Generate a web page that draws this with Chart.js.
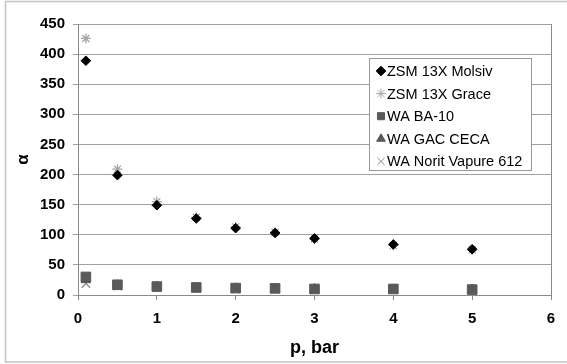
<!DOCTYPE html>
<html>
<head>
<meta charset="utf-8">
<script src="https://cdn.jsdelivr.net/npm/chart.js@4.4.1/dist/chart.umd.min.js"></script>
<style>
  html, body { margin: 0; padding: 0; background: #fff; }
  #wrap { width: 567px; height: 364px; position: relative; }
</style>
</head>
<body>
<div id="wrap"><canvas id="alpha-chart" width="567" height="364"></canvas></div>
<script>
// pressure points, bar
const pressure = [0.1, 0.5, 1, 1.5, 2, 2.5, 3, 4, 5];

// separation factor alpha for each adsorbent
const zsmMolsiv = [389, 199, 149, 127, 111, 103, 94, 84, 76];
const zsmGrace = [426, 209, 155, 129, 113, 104, 93, 82, 75];
const waBA10 = [30, 17, 14, 12.5, 11.5, 11, 10, 10, 9];
const waGacCeca = [25, 16, 14, 12, 11, 10, 10, 9, 9];
const waNorit = [19, 15, 13, 11, 10, 10, 9, 9, 8];

const yTicks = [0, 50, 100, 150, 200, 250, 300, 350, 400, 450];
const xTicks = [0, 1, 2, 3, 4, 5, 6];

const FONT = '"Liberation Sans", Arial, sans-serif';

function toPoints(values) {
    return pressure.map((p, i) => ({ x: p, y: values[i] }));
}

const series = [
    { label: 'ZSM 13X Molsiv', values: zsmMolsiv, style: 'rectRot', radius: 4.8, color: '#000000' },
    { label: 'ZSM 13X Grace', values: zsmGrace, style: 'star', radius: 5, color: '#a6a6a6' },
    { label: 'WA BA-10', values: waBA10, style: 'rect', radius: 6.8, color: '#595959' },
    { label: 'WA GAC CECA', values: waGacCeca, style: 'triangle', radius: 5.5, color: '#595959' },
    { label: 'WA Norit Vapure 612', values: waNorit, style: 'crossRot', radius: 6, color: '#8c8c8c' }
];

// frame round the whole figure, right edge of the plot and the boxed legend
const decorations = {
    id: 'decorations',
    beforeDraw(chart) {
        const ctx = chart.ctx;
        ctx.save();
        ctx.fillStyle = '#fff';
        ctx.fillRect(0, 0, chart.width, chart.height);
        ctx.strokeStyle = '#c4c4c4';
        ctx.lineWidth = 1.5;
        ctx.strokeRect(5.5, 1.5, 580, 360.5);
        ctx.restore();
    },
    afterDraw(chart) {
        const ctx = chart.ctx;
        const area = chart.chartArea;
        ctx.save();
        ctx.strokeStyle = '#8a8a8a';
        ctx.lineWidth = 1;
        ctx.beginPath();
        ctx.moveTo(Math.round(area.right) + 0.5, area.top);
        ctx.lineTo(Math.round(area.right) + 0.5, area.bottom + 5);
        ctx.stroke();

        // legend box
        const bx = 369.5, by = 58.5, bw = 162, bh = 112;
        ctx.fillStyle = '#fff';
        ctx.fillRect(bx, by, bw, bh);
        ctx.strokeStyle = '#9a9a9a';
        ctx.strokeRect(bx, by, bw, bh);
        ctx.font = '14.5px ' + FONT;
        ctx.textBaseline = 'middle';
        chart.data.datasets.forEach((ds, i) => {
            const cy = 71 + i * 22.6;
            ctx.fillStyle = ds.pointBackgroundColor;
            ctx.strokeStyle = ds.pointBorderColor;
            Chart.helpers.drawPoint(ctx, {
                pointStyle: ds.pointStyle,
                radius: Math.min(ds.pointRadius, 5),
                borderWidth: ds.pointBorderWidth,
                rotation: 0
            }, 381, cy);
            ctx.fillStyle = '#000';
            ctx.fillText(ds.label, 387, cy + 1);
        });
        ctx.restore();
    }
};

new Chart(document.getElementById('alpha-chart').getContext('2d'), {
    type: 'scatter',
    data: {
        datasets: series.map(s => ({
            label: s.label,
            data: toPoints(s.values),
            pointStyle: s.style,
            pointRadius: s.radius,
            pointHoverRadius: s.radius,
            pointBackgroundColor: s.color,
            pointBorderColor: s.color,
            pointBorderWidth: (s.style === 'star' || s.style === 'crossRot') ? 1.3 : 1,
            showLine: false
        }))
    },
    options: {
        responsive: false,
        animation: false,
        layout: { padding: { left: 0, top: 24, right: 16, bottom: 0 } },
        plugins: {
            legend: { display: false },
            tooltip: { enabled: false }
        },
        scales: {
            x: {
                type: 'linear',
                min: 0,
                max: 6,
                afterBuildTicks: scale => { scale.ticks = xTicks.map(v => ({ value: v })); },
                afterFit: scale => { scale.height = 69; },
                grid: { drawOnChartArea: false, drawTicks: true, tickLength: 5, color: '#8a8a8a' },
                border: { color: '#8a8a8a', width: 1 },
                ticks: {
                    color: '#000',
                    padding: 10,
                    maxRotation: 0,
                    font: { family: FONT, size: 15, weight: 'bold' }
                },
                title: {
                    display: true,
                    text: 'p, bar',
                    color: '#000',
                    padding: { top: 0, bottom: 5 },
                    font: { family: FONT, size: 18, weight: 'bold' }
                }
            },
            y: {
                min: 0,
                max: 450,
                afterBuildTicks: scale => { scale.ticks = yTicks.map(v => ({ value: v })); },
                afterFit: scale => { scale.width = 78; },
                grid: { color: '#a0a0a0', tickLength: 5, drawTicks: true },
                border: { color: '#8a8a8a', width: 1 },
                ticks: {
                    color: '#000',
                    padding: 8,
                    font: { family: FONT, size: 15, weight: 'bold' }
                },
                title: {
                    display: true,
                    text: 'α',
                    color: '#000',
                    padding: { top: 13, bottom: 0 },
                    font: { family: FONT, size: 17, weight: 'bold' }
                }
            }
        }
    },
    plugins: [decorations]
});
</script>
</body>
</html>
